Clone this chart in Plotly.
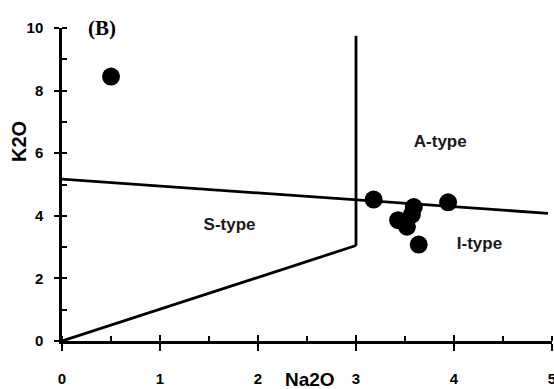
import plotly.graph_objects as go

# sample data (Na2O, K2O)
na2o = [0.5, 3.18, 3.94, 3.59, 3.57, 3.43, 3.52, 3.64]
k2o = [8.45, 4.52, 4.43, 4.28, 4.04, 3.86, 3.65, 3.08]

# discrimination boundaries
div_x = [0, 4.96]
div_y = [5.17, 4.08]
vert_x = [3.0, 3.0]
vert_y = [3.05, 9.75]
diag_x = [0, 3.0]
diag_y = [0, 3.05]

labels = ["A-type", "S-type", "I-type"]
label_x = [3.86, 1.71, 4.26]
label_y = [6.35, 3.68, 3.08]

x_ticks = [0, 1, 2, 3, 4, 5]
y_ticks = [0, 2, 4, 6, 8, 10]

fig = go.Figure()
line_style = dict(color="black", width=2.8)
for xs, ys in [(div_x, div_y), (vert_x, vert_y), (diag_x, diag_y)]:
    fig.add_trace(go.Scatter(x=xs, y=ys, mode="lines", line=line_style,
                             showlegend=False, hoverinfo="skip", cliponaxis=False))

fig.add_trace(go.Scatter(x=na2o, y=k2o, mode="markers",
                         marker=dict(size=18, color="black"),
                         showlegend=False, cliponaxis=False))

fig.add_trace(go.Scatter(x=label_x, y=label_y, mode="text", text=labels,
                         textfont=dict(family="Liberation Sans", size=17, color="#1a1a1a", weight="bold"),
                         showlegend=False, hoverinfo="skip"))

tickfont = dict(family="Liberation Sans", size=15, color="black", weight="bold")
fig.update_layout(
    width=554, height=389,
    margin=dict(l=62, r=2, t=28, b=48),
    paper_bgcolor="white", plot_bgcolor="white",
    xaxis=dict(range=[0, 5], tickvals=x_ticks, showgrid=False, zeroline=False,
               showline=True, linecolor="black", linewidth=2.5, automargin=False,
               ticks="outside", ticklen=7, tickwidth=2, tickcolor="black",
               tickfont=tickfont, ticklabelstandoff=15, ticklabeloverflow="allow",
               minor=dict(dtick=0.5, ticks="inside", ticklen=5, tickwidth=2, tickcolor="black")),
    yaxis=dict(range=[0, 10], tickvals=y_ticks, showgrid=False, zeroline=False,
               showline=True, linecolor="black", linewidth=2.5, automargin=False,
               ticks="outside", ticklen=5, tickwidth=2, tickcolor="black",
               tickfont=tickfont, ticklabelstandoff=8, ticklabeloverflow="allow",
               minor=dict(dtick=1, ticks="inside", ticklen=5, tickwidth=2, tickcolor="black")),
    xaxis2=dict(range=[0, 5], overlaying="x", anchor="y", side="bottom", automargin=False,
                tickvals=x_ticks, showticklabels=False, showgrid=False, zeroline=False,
                ticks="inside", ticklen=6, tickwidth=2, tickcolor="black"),
    yaxis2=dict(range=[0, 10], overlaying="y", anchor="x", side="left", automargin=False,
                tickvals=y_ticks, showticklabels=False, showgrid=False, zeroline=False,
                ticks="inside", ticklen=5, tickwidth=2, tickcolor="black"),
    annotations=[
        dict(text="Na2O", xref="paper", yref="paper", x=(310 - 62) / 490, y=-(379 - 341) / 313,
             xanchor="center", yanchor="middle", showarrow=False,
             font=dict(family="Liberation Sans", size=19, color="black", weight="bold")),
        dict(text="K2O", xref="paper", yref="paper", x=(19 - 62) / 490, y=(341 - 142) / 313,
             xanchor="center", yanchor="middle", textangle=-90, showarrow=False,
             font=dict(family="Liberation Sans", size=20, color="black", weight="bold")),
        dict(text="(B)", xref="paper", yref="paper", x=(102 - 62) / 490, y=(341 - 28) / 313,
             xanchor="center", yanchor="middle", showarrow=False,
             font=dict(family="Liberation Serif", size=21, color="black", weight="bold")),
    ],
)
# dummy trace to activate secondary axes
fig.add_trace(go.Scatter(x=[None], y=[None], xaxis="x2", yaxis="y2", showlegend=False))

fig.write_html("out.html")
